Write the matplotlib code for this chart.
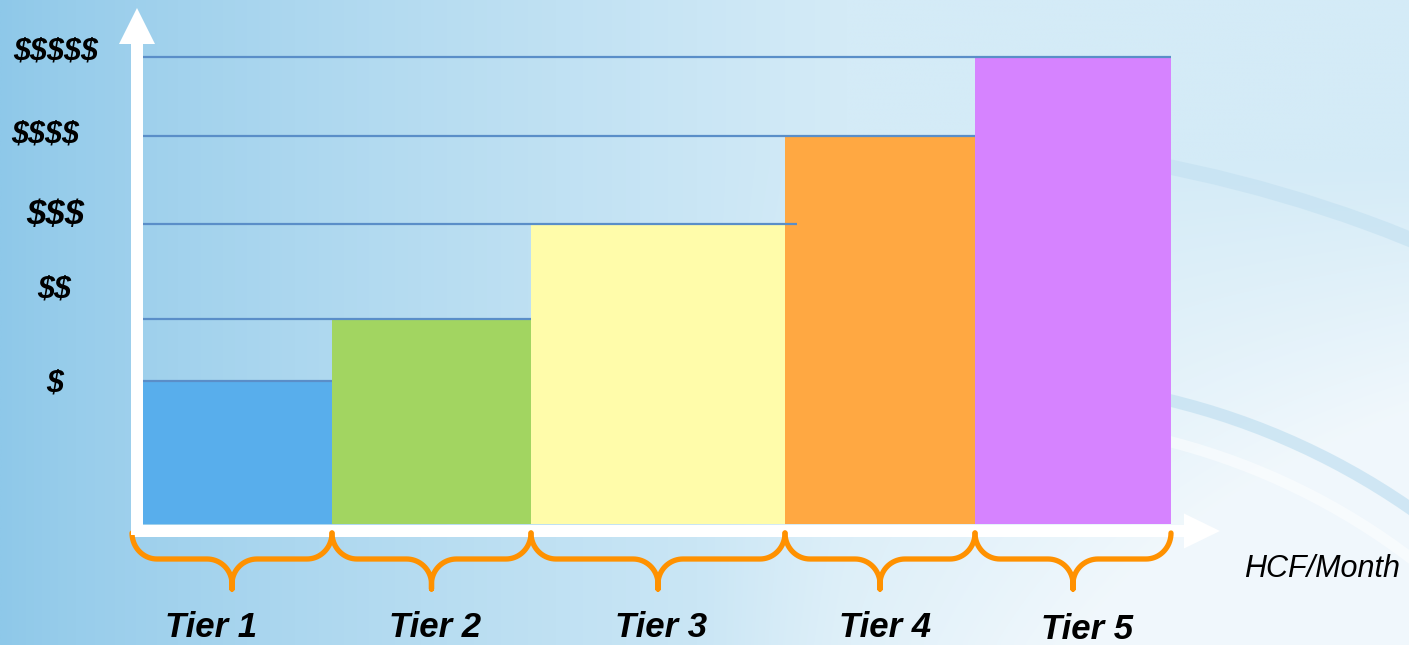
import numpy as np
import matplotlib
matplotlib.use("Agg")
import matplotlib.pyplot as plt
from matplotlib.patches import FancyArrow, Arc

# tier boundaries along the usage axis (HCF/month, relative units)
tier_names = ["Tier 1", "Tier 2", "Tier 3", "Tier 4", "Tier 5"]
tier_edges = [0.0, 1.89, 3.88, 6.42, 8.32, 10.28]
tier_price = [1.43, 2.05, 3.00, 3.88, 4.67]
tier_colors = ["#58aeec", "#a2d561", "#fffcaa", "#ffa842", "#d683ff"]

price_labels = ["$", "$$", "$$$", "$$$$", "$$$$$"]
price_label_x = [-0.88, -0.885, -0.88, -0.975, -0.875]
price_label_y = [1.40, 2.35, 3.095, 3.895, 4.725]
price_label_size = [22, 22, 25, 22, 22]

# guide lines: start, end of each price level
guide_start = [-0.06, -0.06, 0.0, -0.06, 0.0]
guide_end = [1.89, 3.88, 6.54, 8.32, 10.28]

tier_label_x = [0.68, 2.92, 5.18, 7.42, 9.44]
tier_label_y = [-1.13, -1.13, -1.13, -1.13, -1.15]

FONT = "Liberation Sans"

W, H = 1409, 645
fig = plt.figure(figsize=(W / 100, H / 100), dpi=100)
ax = fig.add_axes([0, 0, 1, 1])
xlim = (-1.43, 12.66)
ylim = (-1.21, 5.24)
ax.set_xlim(*xlim)
ax.set_ylim(*ylim)
ax.axis("off")

# background gradient
gh, gw = 130, 282
u = np.linspace(0, 1, gw)[None, :]
v = np.linspace(0, 1, gh)[:, None]
left = np.array([142, 200, 233]) / 255
right = np.array([212, 235, 247]) / 255
t = np.clip(u / 0.6, 0, 1) ** 0.8
base = left[None, None, :] * (1 - t[..., None]) + right[None, None, :] * t[..., None]
base = np.broadcast_to(base, (gh, gw, 3)).copy()
white = np.array([246, 250, 253]) / 255
w = np.clip((u - 0.5) / 0.5, 0, 1) * np.clip((v - 0.25) / 0.75, 0, 1)
w = np.clip(w * 1.6, 0, 0.85)
bg = base * (1 - w[..., None]) + white * w[..., None]
ax.imshow(bg, extent=[xlim[0], xlim[1], ylim[0], ylim[1]], aspect="auto",
          origin="upper", zorder=0, interpolation="bilinear")

# faint swirl bands on the right
ax.add_patch(Arc((7.57, -9.76), 27.2, 27.2, theta1=55, theta2=85,
                 color="#c2e0f1", lw=11, alpha=0.6, zorder=0.5))
ax.add_patch(Arc((8.57, -5.76), 14.4, 14.4, theta1=40, theta2=85,
                 color="#c2e0f1", lw=9, alpha=0.7, zorder=0.5))
ax.add_patch(Arc((8.57, -5.76), 13.6, 13.6, theta1=40, theta2=85,
                 color="white", lw=8, alpha=0.5, zorder=0.5))

# tier bars
edges = np.array(tier_edges)
ax.bar(edges[:-1], tier_price, width=np.diff(edges), align="edge",
       color=tier_colors, linewidth=0, zorder=2)

# price guide lines
ax.hlines(tier_price, guide_start, guide_end, color="#5a8ec8", linewidth=1.6, zorder=3)

# axis arrows
ax.add_patch(FancyArrow(-0.06, -0.11, 0, 5.27, width=0.12, head_width=0.36,
                        head_length=0.36, length_includes_head=True,
                        color="white", lw=0, zorder=4))
ax.add_patch(FancyArrow(-0.12, -0.07, 10.89, 0, width=0.12, head_width=0.35,
                        head_length=0.36, length_includes_head=True,
                        color="white", lw=0, zorder=1.5))


def brace(x0, x1, ytop=-0.09, ymid=-0.35, ytip=-0.65, r=0.25):
    xc = (x0 + x1) / 2
    pts = []
    a = np.linspace(np.pi, 1.5 * np.pi, 20)
    pts += list(zip(x0 + r + r * np.cos(a), ytop + (ytop - ymid) * np.sin(a)))
    a = np.linspace(0.5 * np.pi, 0, 20)
    pts += list(zip(xc - r + r * np.cos(a), ymid - r + r * np.sin(a)))
    pts.append((xc, ytip))
    a = np.linspace(np.pi, 0.5 * np.pi, 20)
    pts += list(zip(xc + r + r * np.cos(a), ymid - r + r * np.sin(a)))
    a = np.linspace(1.5 * np.pi, 2 * np.pi, 20)
    pts += list(zip(x1 - r + r * np.cos(a), ytop + (ytop - ymid) * np.sin(a)))
    return np.array(pts)


brace_edges = [-0.11] + tier_edges[1:]
for i in range(len(tier_names)):
    p = brace(brace_edges[i], brace_edges[i + 1])
    ax.plot(p[:, 0], p[:, 1], color="#ff9100", linewidth=3.8,
            solid_capstyle="round", solid_joinstyle="round", zorder=3)

for name, x, y in zip(tier_names, tier_label_x, tier_label_y):
    ax.text(x, y, name, ha="center", va="baseline", fontsize=25,
            fontweight="bold", fontstyle="italic", family=FONT, zorder=5)

for lab, x, y, s in zip(price_labels, price_label_x, price_label_y, price_label_size):
    ax.text(x, y, lab, ha="center", va="center", fontsize=s, parse_math=False,
            fontweight="bold", fontstyle="italic", family=FONT, zorder=5)

ax.text(11.79, -0.53, "HCF/Month", ha="center", va="baseline", fontsize=22,
        fontstyle="italic", family=FONT, zorder=5)

fig.savefig("out.png", dpi=100)
